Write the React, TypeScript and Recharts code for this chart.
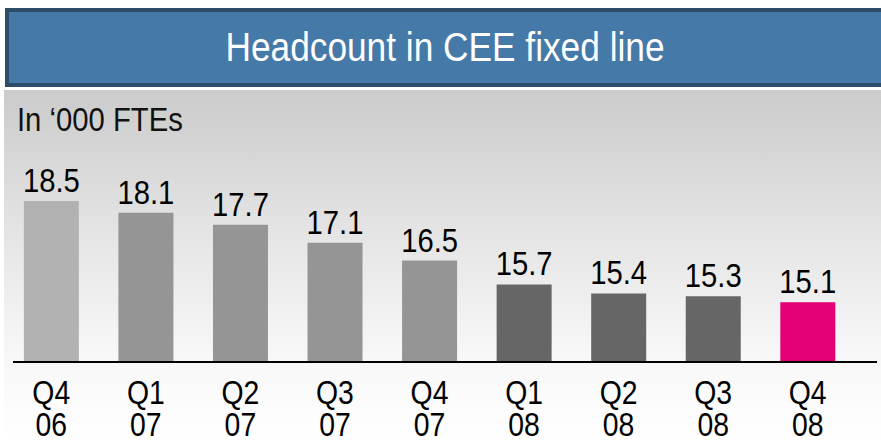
import React from "react";
import { BarChart, Bar, XAxis, YAxis, Cell, LabelList } from "recharts";

const QUARTERS = ["Q4 06", "Q1 07", "Q2 07", "Q3 07", "Q4 07", "Q1 08", "Q2 08", "Q3 08", "Q4 08"];
const HEADCOUNT = [18.5, 18.1, 17.7, 17.1, 16.5, 15.7, 15.4, 15.3, 15.1];
const BAR_COLORS = ["#b2b2b2", "#959595", "#959595", "#959595", "#959595", "#666666", "#666666", "#666666", "#e20074"];

const FONT = "'Liberation Sans', Arial, sans-serif";
const SQUEEZE = 0.86;

const chartData = QUARTERS.map((q, i) => ({ quarter: q, value: HEADCOUNT[i] }));

function QuarterTick(props: any) {
  const { x, y, payload } = props;
  const [q, yr] = String(payload.value).split(" ");
  return (
    <g transform={`translate(${x},${y}) scale(${SQUEEZE},1)`}>
      <text x={0} y={42} textAnchor="middle" fill="#000" fontFamily={FONT} fontSize={33}>
        {q}
      </text>
      <text x={0} y={74} textAnchor="middle" fill="#000" fontFamily={FONT} fontSize={33}>
        {yr}
      </text>
    </g>
  );
}

function ValueLabel(props: any) {
  const { x, y, width, value } = props;
  const cx = x + width / 2;
  return (
    <g transform={`translate(${cx},${y - 9}) scale(${SQUEEZE},1)`}>
      <text x={0} y={0} textAnchor="middle" fill="#000" fontFamily={FONT} fontSize={34}>
        {Number(value).toFixed(1)}
      </text>
    </g>
  );
}

export default function App() {
  return (
    <div style={{ position: "absolute", left: 0, top: 0, width: 881, height: 441, background: "#fff", overflow: "hidden" }}>
      <div
        style={{
          position: "absolute",
          left: 5,
          top: 8,
          width: 876,
          height: 79,
          boxSizing: "border-box",
          background: "#4479a8",
          border: "4px solid #2e4d68",
          borderRight: "none",
        }}
      >
        <div
          style={{
            color: "#fff",
            fontFamily: FONT,
            fontSize: 41,
            lineHeight: "71px",
            textAlign: "center",
            transform: `scaleX(${SQUEEZE})`,
            whiteSpace: "nowrap",
          }}
        >
          Headcount in CEE fixed line
        </div>
      </div>
      <div
        style={{
          position: "absolute",
          left: 4,
          top: 90,
          width: 877,
          height: 351,
          background: "linear-gradient(to bottom, #cbcbcb 0%, #e4e4e4 40%, #f7f7f7 75%, #ffffff 100%)",
        }}
      />
      <div
        style={{
          position: "absolute",
          left: 17,
          top: 100,
          fontFamily: FONT,
          fontSize: 34,
          color: "#111",
          transform: `scaleX(${SQUEEZE})`,
          transformOrigin: "left top",
          whiteSpace: "nowrap",
        }}
      >
        In ‘000 FTEs
      </div>
      <div style={{ position: "absolute", left: 0, top: 0 }}>
        <BarChart
          width={881}
          height={441}
          data={chartData}
          margin={{ top: 180, right: 4, bottom: 0, left: 13 }}
          barCategoryGap="21%"
        >
          <XAxis
            dataKey="quarter"
            height={79}
            interval={0}
            tickLine={false}
            tickSize={0}
            tickMargin={0}
            padding={{ left: -9, right: 22 }}
            axisLine={{ stroke: "#000", strokeWidth: 2 }}
            tick={<QuarterTick />}
          />
          <YAxis hide domain={[13.1, 19.2]} allowDataOverflow />
          <Bar dataKey="value" isAnimationActive={false}>
            {chartData.map((_, i) => (
              <Cell key={`c-${i}`} fill={BAR_COLORS[i]} />
            ))}
            <LabelList dataKey="value" content={<ValueLabel />} />
          </Bar>
        </BarChart>
      </div>
    </div>
  );
}
